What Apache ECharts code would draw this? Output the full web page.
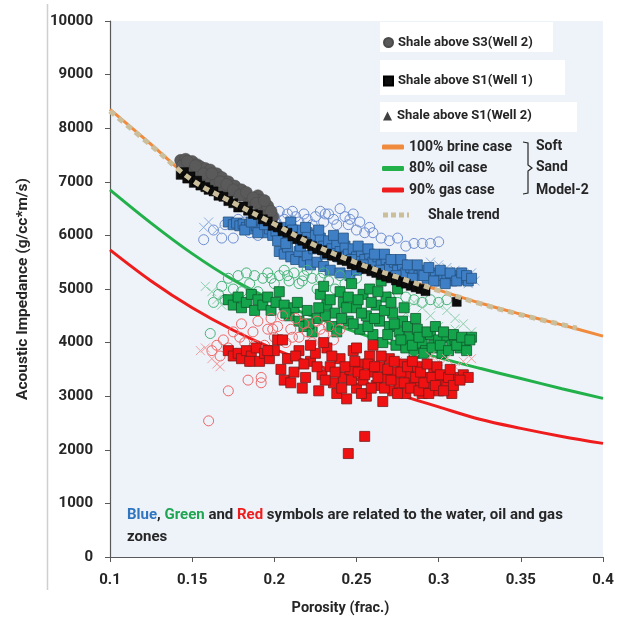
<!DOCTYPE html>
<html>
<head>
<meta charset="utf-8">
<script src="https://cdn.jsdelivr.net/npm/echarts@6/dist/echarts.min.js"></script>
<style>
html,body{margin:0;padding:0;background:#fff;}
#chart{width:623px;height:617px;}
</style>
</head>
<body>
<div id="chart"></div>
<script>
// ---------- Data ----------
var xTicks = [0.1, 0.15, 0.2, 0.25, 0.3, 0.35, 0.4];
var yTicks = [0, 1000, 2000, 3000, 4000, 5000, 6000, 7000, 8000, 9000, 10000];

// Soft Sand Model-2 curves [porosity, impedance]
var brineCase = [[0.1,8350],[0.125,7700],[0.15,7040],[0.175,6620],[0.2,6220],[0.225,5820],[0.25,5500],[0.275,5230],[0.3,4980],[0.325,4740],[0.35,4530],[0.375,4330],[0.4,4120]];
var oilCase = [[0.1,6850],[0.125,6230],[0.15,5660],[0.175,5170],[0.2,4780],[0.225,4470],[0.25,4190],[0.275,3940],[0.3,3720],[0.325,3520],[0.35,3330],[0.375,3140],[0.4,2960]];
var gasCase = [[0.1,5730],[0.125,5150],[0.15,4650],[0.175,4230],[0.2,3880],[0.225,3590],[0.25,3320],[0.275,3040],[0.3,2800],[0.325,2570],[0.35,2400],[0.375,2250],[0.4,2120]];
var shaleTrend = [[0.1,8320],[0.125,7680],[0.15,7030],[0.175,6610],[0.2,6210],[0.225,5810],[0.25,5490],[0.275,5220],[0.3,4970],[0.325,4730],[0.35,4520],[0.384,4270]];

// Shale points
var shaleS3Well2 = [[0.143,7400],[0.145,7350],[0.146,7420],[0.148,7300],[0.15,7380],[0.151,7250],[0.153,7320],[0.155,7280],[0.156,7200],[0.158,7250],[0.16,7150],[0.161,7220],[0.163,7100],[0.165,7150],[0.166,7050],[0.168,7080],[0.17,6980],[0.172,7000],[0.174,6900],[0.176,6920],[0.178,6820],[0.18,6850],[0.182,6750],[0.184,6700],[0.186,6650],[0.149,7150],[0.154,7100],[0.159,7000],[0.164,6950],[0.169,6880],[0.173,6800],[0.19,6740],[0.191,6650],[0.192,6580],[0.193,6500],[0.195,6450],[0.196,6550],[0.197,6400],[0.199,6350],[0.144,7300],[0.147,7380],[0.152,7300],[0.157,7150],[0.162,7150],[0.167,7000],[0.171,6950],[0.175,6850],[0.179,6750],[0.183,6800],[0.187,6700],[0.189,6600],[0.194,6650],[0.198,6450]];
var shaleS1Well1 = [[0.143,7130],[0.145,7180],[0.147,7060],[0.149,7100],[0.151,6980],[0.153,7020],[0.155,6930],[0.158,6900],[0.16,6850],[0.163,6820],[0.166,6740],[0.169,6720],[0.172,6640],[0.175,6600],[0.178,6520],[0.181,6540],[0.184,6460],[0.187,6400],[0.19,6380],[0.193,6300],[0.196,6260],[0.199,6180],[0.202,6150],[0.205,6080],[0.208,6050],[0.211,5980],[0.214,5930],[0.217,5900],[0.22,5840],[0.223,5800],[0.226,5750],[0.229,5720],[0.232,5660],[0.235,5620],[0.238,5600],[0.241,5540],[0.244,5520],[0.247,5460],[0.25,5440],[0.253,5400],[0.256,5370],[0.259,5330],[0.262,5300],[0.265,5260],[0.268,5230],[0.271,5200],[0.274,5160],[0.277,5130],[0.28,5100],[0.283,5060],[0.286,5030],[0.289,5000],[0.292,4960],[0.311,4760]];
var shaleS1Well2 = [];

// Water zone (blue)
var waterSquares = [[0.172,6250],[0.175,6200],[0.177,6230],[0.179,6180],[0.181,6210],[0.183,6150],[0.185,6200],[0.187,6120],[0.189,6180],[0.191,6100],[0.193,6150],[0.195,6050],[0.197,6120],[0.199,6000],[0.201,6080],[0.203,5700],[0.206,5650],[0.208,5780],[0.21,5600],[0.213,5550],[0.215,5700],[0.218,5500],[0.22,5620],[0.222,5450],[0.205,6150],[0.208,6050],[0.21,6250],[0.212,5950],[0.215,6100],[0.218,5900],[0.22,6050],[0.223,5850],[0.225,6000],[0.228,5950],[0.23,5800],[0.233,5900],[0.235,5750],[0.238,5850],[0.24,5700],[0.243,5800],[0.245,5650],[0.248,5750],[0.25,5600],[0.253,5700],[0.255,5550],[0.258,5650],[0.26,5500],[0.263,5600],[0.265,5450],[0.268,5550],[0.27,5400],[0.273,5500],[0.275,5350],[0.278,5450],[0.28,5300],[0.283,5400],[0.285,5350],[0.288,5250],[0.29,5350],[0.293,5200],[0.295,5300],[0.298,5250],[0.3,5150],[0.303,5250],[0.305,5200],[0.308,5150],[0.31,5250],[0.313,5180],[0.316,5220],[0.318,5150],[0.226,5500],[0.23,5420],[0.234,5350],[0.24,5300],[0.246,5250],[0.25,5350],[0.202,5900],[0.207,5850],[0.211,6100],[0.216,5800],[0.219,6150],[0.224,5750],[0.227,6100],[0.231,5650],[0.236,6000],[0.239,5600],[0.242,5950],[0.247,5550],[0.251,5800],[0.254,5450],[0.257,5750],[0.261,5650],[0.264,5350],[0.267,5650],[0.271,5550],[0.274,5250],[0.277,5550],[0.281,5450],[0.284,5200],[0.287,5450],[0.291,5250],[0.294,5400],[0.297,5150],[0.301,5350],[0.304,5100],[0.307,5300],[0.311,5150],[0.314,5300],[0.317,5250],[0.32,5200],[0.182,6100],[0.186,6250],[0.19,6050],[0.194,6200]];
var waterCircles = [[0.157,5920],[0.163,6100],[0.168,5950],[0.17,6200],[0.175,5950],[0.178,6300],[0.182,6250],[0.185,6050],[0.188,6350],[0.19,6000],[0.195,6250],[0.198,6400],[0.2,6350],[0.203,6450],[0.206,6300],[0.208,6400],[0.21,6200],[0.213,6350],[0.215,6250],[0.218,6400],[0.22,6300],[0.223,6200],[0.225,6350],[0.228,6450],[0.23,6250],[0.233,6400],[0.236,6300],[0.24,6500],[0.243,6350],[0.245,6200],[0.248,6400],[0.252,6250],[0.255,6050],[0.26,6050],[0.265,5950],[0.27,5900],[0.275,5950],[0.28,5800],[0.285,5850],[0.29,5850],[0.295,5850],[0.3,5880],[0.201,6250],[0.211,6450],[0.221,6150],[0.231,6400],[0.238,6200],[0.246,6300],[0.25,6100],[0.258,6150]];
var waterCrosses = [[0.157,6150],[0.16,6250],[0.165,6100],[0.295,5500],[0.3,5450],[0.305,5400],[0.31,5350],[0.315,5250],[0.32,5300],[0.322,5150],[0.318,5100]];

// Oil zone (green)
var oilSquares = [[0.172,4800],[0.175,4700],[0.178,4850],[0.18,4650],[0.183,4750],[0.186,4900],[0.188,4600],[0.19,4800],[0.193,4700],[0.196,4850],[0.198,4600],[0.201,4750],[0.203,4950],[0.206,4700],[0.209,4500],[0.212,4650],[0.215,4400],[0.218,4300],[0.22,4600],[0.223,4200],[0.226,4450],[0.228,4900],[0.23,5050],[0.232,4700],[0.235,4300],[0.237,4550],[0.24,4950],[0.242,4750],[0.245,4400],[0.247,5100],[0.25,4650],[0.252,4250],[0.254,4900],[0.256,4500],[0.258,5000],[0.26,4150],[0.262,4700],[0.264,4400],[0.266,4000],[0.268,4850],[0.27,4300],[0.272,4550],[0.274,3950],[0.276,4200],[0.278,4400],[0.28,3900],[0.282,4100],[0.285,3800],[0.287,4250],[0.29,4000],[0.292,3850],[0.295,4150],[0.297,3950],[0.3,4050],[0.302,3800],[0.305,4100],[0.308,3950],[0.31,4050],[0.313,3900],[0.316,4000],[0.32,4100],[0.275,5000],[0.265,5150],[0.245,4850],[0.231,4500],[0.234,4800],[0.238,4200],[0.241,4450],[0.244,4650],[0.248,4350],[0.251,4800],[0.253,4550],[0.257,4300],[0.259,4750],[0.261,4450],[0.263,4950],[0.267,4600],[0.269,4150],[0.271,4750],[0.273,4350],[0.277,4050],[0.279,4650],[0.281,4300],[0.284,3950],[0.286,4450],[0.288,4100],[0.291,3800],[0.293,4200],[0.296,3900],[0.298,4300],[0.301,3950],[0.303,4200],[0.306,3850],[0.309,4150],[0.311,3950],[0.314,4100],[0.317,3850],[0.319,4050],[0.207,4550],[0.214,4750],[0.221,4350],[0.227,4650]];
var oilCircles = [[0.161,4170],[0.163,4750],[0.166,4900],[0.168,5050],[0.17,4800],[0.172,5200],[0.175,5000],[0.178,5250],[0.18,4950],[0.183,5300],[0.185,5100],[0.188,5250],[0.19,4950],[0.193,5200],[0.196,5300],[0.2,5100],[0.203,5250],[0.206,5350],[0.209,5150],[0.212,5300],[0.215,5100],[0.218,5250],[0.22,5350],[0.223,5200],[0.226,5000],[0.23,5300],[0.233,5150],[0.237,5000],[0.24,5250],[0.27,4850],[0.275,4750],[0.28,4850],[0.285,4800],[0.29,4750],[0.295,4800],[0.3,4750],[0.305,4800],[0.198,5200],[0.208,5250],[0.217,5150],[0.228,5200],[0.243,5100],[0.25,5200]];
var oilCrosses = [[0.158,5050],[0.162,4950],[0.165,4800],[0.168,4700],[0.27,4600],[0.28,4550],[0.285,4750],[0.29,4650],[0.295,4500],[0.3,4700],[0.305,4600],[0.31,4450],[0.315,4350],[0.32,4200],[0.3,4300],[0.31,4250]];

// Gas zone (red)
var gasSquares = [[0.172,3850],[0.175,3750],[0.178,3800],[0.18,3700],[0.183,3850],[0.186,3750],[0.189,3900],[0.191,3650],[0.194,3800],[0.197,3700],[0.2,3850],[0.202,4050],[0.204,3500],[0.206,3300],[0.208,3700],[0.21,3250],[0.212,3450],[0.215,3850],[0.217,3150],[0.219,3350],[0.222,3650],[0.225,3800],[0.227,3100],[0.229,3400],[0.232,3900],[0.234,3550],[0.236,3250],[0.238,3050],[0.24,3700],[0.242,3350],[0.244,2950],[0.246,3500],[0.248,3850],[0.25,3150],[0.252,3600],[0.254,3300],[0.256,3000],[0.258,3750],[0.26,3450],[0.262,3200],[0.264,3550],[0.266,2900],[0.268,3350],[0.27,3700],[0.272,3100],[0.274,3450],[0.276,3250],[0.278,3600],[0.28,3050],[0.282,3400],[0.285,3200],[0.287,3550],[0.29,3050],[0.292,3350],[0.295,3150],[0.297,3450],[0.3,3100],[0.302,3300],[0.305,3200],[0.308,3050],[0.311,3350],[0.315,3400],[0.318,3350],[0.245,1930],[0.255,2250],[0.23,4000],[0.26,3950],[0.25,3900],[0.205,4050],[0.222,3950],[0.241,3150],[0.243,3550],[0.247,3300],[0.249,3650],[0.251,3450],[0.253,3050],[0.255,3400],[0.257,3600],[0.259,3150],[0.261,3550],[0.263,3350],[0.265,3750],[0.267,3150],[0.269,3500],[0.271,3300],[0.273,3650],[0.275,3050],[0.277,3450],[0.279,3250],[0.281,3550],[0.283,3150],[0.284,3650],[0.286,3350],[0.288,3100],[0.289,3450],[0.291,3250],[0.293,3600],[0.294,3050],[0.296,3350],[0.298,3200],[0.299,3550],[0.301,3400],[0.303,3100],[0.306,3350],[0.307,3500],[0.309,3200],[0.313,3300],[0.231,3300],[0.235,3750],[0.237,3450],[0.226,3550],[0.213,3750],[0.218,3600],[0.196,3850],[0.185,3650]];
var gasCircles = [[0.16,2540],[0.162,3850],[0.165,3950],[0.167,3750],[0.169,4050],[0.172,3100],[0.172,3900],[0.175,4200],[0.177,3800],[0.18,4350],[0.182,4000],[0.184,3300],[0.185,3650],[0.187,4200],[0.19,4400],[0.192,3350],[0.192,3250],[0.194,3950],[0.196,4250],[0.198,4450],[0.2,4100],[0.202,4300],[0.205,4500],[0.207,4000],[0.21,4250],[0.213,4450],[0.215,4100],[0.218,4350],[0.22,4200],[0.223,4000],[0.226,4400],[0.23,4150],[0.233,4300],[0.236,4050],[0.24,4250],[0.179,4100],[0.188,3950],[0.199,4250],[0.211,4100],[0.228,4250]];
var gasCrosses = [[0.155,3850],[0.158,3900],[0.162,3700],[0.165,3600],[0.167,3550],[0.275,3650],[0.285,3700],[0.29,3600],[0.295,3750],[0.3,3650],[0.305,3700],[0.31,3550],[0.315,3650],[0.32,3700]];

// ---------- Chart ----------
var FONT = 'Roboto';
var crossPath = 'path://M0,0L10,10M10,0L0,10';
var trendIcon = 'path://M0,0h5v5h-5zM8,0h5v5h-5zM16,0h5v5h-5zM24,0h2v5h-2z';

function scatter(name, data, symbol, size, fill, border, bw, z) {
  return {
    name: name, type: 'scatter', data: data, symbol: symbol, symbolSize: size,
    itemStyle: { color: fill, borderColor: border, borderWidth: bw, opacity: 1 },
    emphasis: { disabled: true }, z: z, silent: true, animation: false
  };
}
function curve(name, data, color, width, dash, z) {
  return {
    name: name, type: 'line', data: data, smooth: 0.35, showSymbol: false, symbol: 'none',
    color: color, lineStyle: { color: color, width: width, type: dash || 'solid', cap: 'butt' },
    emphasis: { disabled: true }, z: z, silent: true, animation: false
  };
}

var chart = echarts.init(document.getElementById('chart'), null, { renderer: 'canvas' });
var legendText = { fontFamily: FONT, fontWeight: 'bold', fontSize: 13, color: '#262626' };
var lineLegendText = { fontFamily: FONT, fontWeight: 'bold', fontSize: 14, color: '#262626' };
var TF = 'bold 14px Roboto';
var AF = 'bold 15px Roboto';

chart.setOption({
  animation: false,
  backgroundColor: '#ffffff',
  grid: { left: 110, right: 20, top: 21, bottom: 60, show: true, backgroundColor: '#eef2f9', borderWidth: 0,
    containLabel: false, outerBoundsMode: 'none' },
  xAxis: {
    type: 'value', min: xTicks[0], max: xTicks[xTicks.length - 1], interval: 0.05,
    name: 'Porosity (frac.)', nameLocation: 'middle', nameGap: 44,
    nameTextStyle: { fontFamily: FONT, fontWeight: 'bold', fontSize: 14.5, color: '#262626', padding: [0, 32, 0, 0] },
    axisLine: { lineStyle: { color: '#595959', width: 1.2 } },
    axisTick: { show: true, length: 5, lineStyle: { color: '#595959' } },
    axisLabel: { fontFamily: FONT, fontWeight: 'bold', fontSize: 15, color: '#262626', margin: 16,
      formatter: function (v) { return String(Math.round(v * 100) / 100); } },
    splitLine: { show: false }
  },
  yAxis: {
    type: 'value', min: yTicks[0], max: yTicks[yTicks.length - 1], interval: 1000,
    name: 'Acoustic Impedance (g/cc*m/s)', nameLocation: 'middle', nameGap: 79, nameRotate: 90,
    nameTextStyle: { fontFamily: FONT, fontWeight: 'bold', fontSize: 15.5, color: '#262626' },
    axisLine: { show: true, lineStyle: { color: '#595959', width: 1.2 } },
    axisTick: { show: true, length: 5, lineStyle: { color: '#595959' } },
    axisLabel: { fontFamily: FONT, fontWeight: 'bold', fontSize: 15, color: '#262626', margin: 17,
      formatter: function (v) { return String(v); } },
    splitLine: { show: false }
  },
  legend: [
    { data: ['Shale above S3(Well 2)'], left: 383, top: 36, padding: 0, itemWidth: 9, itemHeight: 9, textStyle: legendText, selectedMode: false, z: 10 },
    { data: ['Shale above S1(Well 1)'], left: 383, top: 74.5, padding: 0, itemWidth: 9, itemHeight: 9, textStyle: legendText, selectedMode: false, z: 10 },
    { data: ['Shale above S1(Well 2)'], left: 383, top: 109.5, padding: 0, itemWidth: 9, itemHeight: 9, textStyle: legendText, selectedMode: false, z: 10 },
    { data: ['100% brine case', '80% oil case', '90% gas case'], orient: 'vertical', left: 382, top: 140, padding: 0,
      itemGap: 7.5, itemWidth: 22, itemHeight: 5, icon: 'roundRect', textStyle: lineLegendText, selectedMode: false, z: 10 },
    { data: ['Shale trend'], left: 383, top: 208, padding: 0, itemWidth: 26, itemHeight: 5, icon: trendIcon,
      textStyle: { fontFamily: FONT, fontWeight: 'bold', fontSize: 14, color: '#262626', padding: [0, 0, 0, 14] }, selectedMode: false, z: 10 }
  ],
  graphic: [
    { type: 'line', shape: { x1: 47.5, y1: 4, x2: 47.5, y2: 590 }, style: { stroke: '#cfcfcf', lineWidth: 1.5 }, z: 1, silent: true },
    { type: 'rect', shape: { x: 380, y: 22, width: 173, height: 30 }, style: { fill: '#ffffff' }, z: 5, silent: true },
    { type: 'rect', shape: { x: 380, y: 60, width: 185, height: 35 }, style: { fill: '#ffffff' }, z: 5, silent: true },
    { type: 'rect', shape: { x: 380, y: 102, width: 197, height: 30 }, style: { fill: '#ffffff' }, z: 5, silent: true },
    { type: 'polyline', shape: { points: [[523, 142], [528, 143], [528, 165], [532, 168], [528, 171], [528, 193], [523, 194]] },
      style: { stroke: '#262626', lineWidth: 1.2, fill: null }, z: 10, silent: true },
    { type: 'text', left: 536, top: 139, style: { text: 'Soft', font: TF, fill: '#262626' }, z: 10, silent: true },
    { type: 'text', left: 536, top: 160, style: { text: 'Sand', font: TF, fill: '#262626' }, z: 10, silent: true },
    { type: 'text', left: 536, top: 183, style: { text: 'Model-2', font: TF, fill: '#262626' }, z: 10, silent: true },
    { type: 'text', left: 127, top: 508, z: 10, silent: true,
      style: { text: '{b|Blue}, {g|Green} and {r|Red} symbols are related to the water, oil and gas',
        font: AF, fill: '#262626',
        rich: { b: { fill: '#2f75c0', font: AF }, g: { fill: '#1ea552', font: AF }, r: { fill: '#ee1c1c', font: AF } } } },
    { type: 'text', left: 127, top: 530, style: { text: 'zones', font: AF, fill: '#262626' }, z: 10, silent: true }
  ],
  series: [
    curve('100% brine case', brineCase, '#f08a3c', 3, 'solid', 1),
    curve('80% oil case', oilCase, '#22b04b', 3, 'solid', 1),
    curve('90% gas case', gasCase, '#ee1c1c', 3, 'solid', 1),

    scatter('water circles', waterCircles, 'circle', 10, 'rgba(0,0,0,0)', '#6e8fd2', 1, 2),
    scatter('water crosses', waterCrosses, crossPath, 9, 'rgba(0,0,0,0)', '#8fb0e0', 1, 2),
    scatter('water squares', waterSquares, 'rect', 10, '#3f7fc6', '#23507f', 0.8, 2),
    scatter('oil circles', oilCircles, 'circle', 10, 'rgba(0,0,0,0)', '#45b577', 1, 2),
    scatter('oil crosses', oilCrosses, crossPath, 9, 'rgba(0,0,0,0)', '#8dd0aa', 1, 2),
    scatter('oil squares', oilSquares, 'rect', 10, '#14a44b', '#0c5a2b', 0.8, 2),
    scatter('gas circles', gasCircles, 'circle', 10, 'rgba(0,0,0,0)', '#ee6767', 1, 2),
    scatter('gas crosses', gasCrosses, crossPath, 9, 'rgba(0,0,0,0)', '#f1a0a0', 1, 2),
    scatter('gas squares', gasSquares, 'rect', 10, '#f01212', '#7a1a1a', 0.8, 2),

    scatter('Shale above S3(Well 2)', shaleS3Well2, 'circle', 12, '#5a5a5a', '#4a4a4a', 0.5, 3),
    scatter('Shale above S1(Well 1)', shaleS1Well1, 'rect', 9, '#0d0d0d', '#000000', 0.5, 3),
    scatter('Shale above S1(Well 2)', shaleS1Well2, 'triangle', 9, '#404040', '#404040', 0, 3),
    curve('Shale trend', shaleTrend, '#cbbe9b', 5, [6, 5], 4)
  ]
});
</script>
</body>
</html>
